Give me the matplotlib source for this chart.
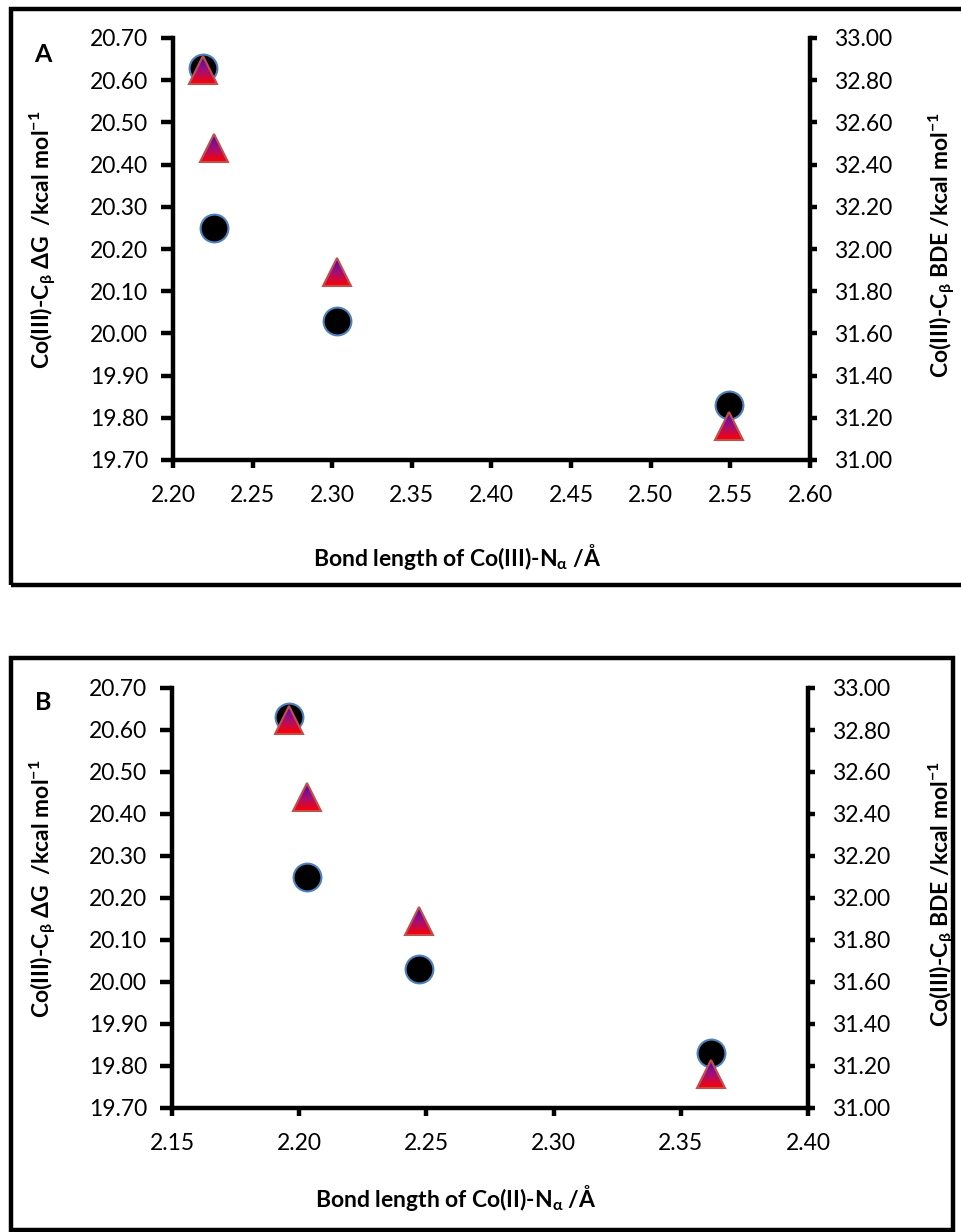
import numpy as np
import matplotlib
matplotlib.use('Agg')
import matplotlib.pyplot as plt
from matplotlib.colors import LinearSegmentedColormap
from matplotlib.transforms import Affine2D, ScaledTranslation
from matplotlib.patches import Polygon, Rectangle
from matplotlib.ticker import FormatStrFormatter

plt.rcParams['font.family'] = ['Lato', 'DejaVu Sans']
plt.rcParams['mathtext.fontset'] = 'custom'
plt.rcParams['mathtext.rm'] = 'Lato'
plt.rcParams['mathtext.bf'] = 'Lato:bold'
plt.rcParams['mathtext.it'] = 'Lato:italic'
plt.rcParams['mathtext.fallback'] = 'stixsans'

# ---------------- data ----------------
bond_co3 = [2.219, 2.226, 2.303, 2.549]   # Co(III)-N_alpha bond length (panel A)
bond_co2 = [2.196, 2.203, 2.247, 2.362]   # Co(II)-N_alpha bond length (panel B)
dG = [20.63, 20.25, 20.03, 19.83]         # Co(III)-C_beta dG (left axis)
bde = [32.85, 32.48, 31.89, 31.16]        # Co(III)-C_beta BDE (right axis)

xticks_A = [2.20, 2.25, 2.30, 2.35, 2.40, 2.45, 2.50, 2.55, 2.60]
xticks_B = [2.15, 2.20, 2.25, 2.30, 2.35, 2.40]
yticks_dG = [19.70, 19.80, 19.90, 20.00, 20.10, 20.20, 20.30, 20.40, 20.50, 20.60, 20.70]
yticks_bde = [31.00, 31.20, 31.40, 31.60, 31.80, 32.00, 32.20, 32.40, 32.60, 32.80, 33.00]

W, H = 961, 1232
fig = plt.figure(figsize=(W / 100, H / 100), dpi=100)

MS = 20
tri_cmap = LinearSegmentedColormap.from_list('tri', ['#ff0000', '#a0107a', '#4a0aa8'])
TICK_FS = 16.5
LAB_FS = 16.5


def fx(px):
    return px / W


def fy(py):
    return 1 - py / H


def panel(top, bottom, left, right, xs, xticks, xlabel, letter,
          xlab_y, ylab_y, rlab_y, letter_y):
    ax = fig.add_axes([fx(left), fy(bottom), fx(right - left), (bottom - top) / H])
    ax2 = ax.twinx()

    ax.plot(xs, dG, 'o', ms=MS, mfc='black', mec='#4f81bd', mew=1.5, zorder=3,
            clip_on=False)

    grad = np.linspace(0, 1, 64).reshape(-1, 1)
    for x, y in zip(xs, bde):
        T = (Affine2D().scale(MS / 2 / 72) + fig.dpi_scale_trans
             + ScaledTranslation(x, y, ax2.transData))
        im = ax2.imshow(grad, cmap=tri_cmap, extent=(-1, 1, -1, 1), origin='lower',
                        transform=T, aspect='auto', interpolation='bilinear',
                        zorder=3)
        poly = Polygon([(0, 1), (-1, -1), (1, -1)], closed=True, transform=T)
        im.set_clip_path(poly)
    ax2.plot(xs, bde, '^', ms=MS, mfc='none', mec='#c0504d', mew=1.5, zorder=4,
             clip_on=False)

    ax.set_xlim(xticks[0], xticks[-1])
    ax.set_ylim(yticks_dG[0], yticks_dG[-1])
    ax2.set_ylim(yticks_bde[0], yticks_bde[-1])
    ax.set_xticks(xticks)
    ax.set_yticks(yticks_dG)
    ax2.set_yticks(yticks_bde)
    ax.xaxis.set_major_formatter(FormatStrFormatter('%.2f'))
    ax.yaxis.set_major_formatter(FormatStrFormatter('%.2f'))
    ax2.yaxis.set_major_formatter(FormatStrFormatter('%.2f'))

    for a in (ax, ax2):
        a.patch.set_visible(False)
        a.spines['top'].set_visible(False)
    ax.spines['right'].set_visible(False)
    ax2.spines['left'].set_visible(False)
    ax2.spines['bottom'].set_visible(False)
    for s in ('left', 'bottom'):
        ax.spines[s].set_linewidth(3.2)
    ax2.spines['right'].set_linewidth(3.2)

    ax.tick_params(axis='y', direction='out', length=9, width=3.2, labelsize=TICK_FS, pad=9)
    ax.tick_params(axis='x', direction='out', length=6, width=3.2, labelsize=TICK_FS, pad=12)
    ax2.tick_params(axis='y', direction='out', length=5, width=3.2, labelsize=TICK_FS, pad=12)

    fig.text(fx((left + right) / 2 - 34), fy(xlab_y), xlabel, ha='center', va='center',
             fontsize=LAB_FS, fontweight='bold')
    fig.text(fx(43), fy(ylab_y), r'Co(III)-C$_{\mathbf{\beta}}$ $\mathbf{\Delta}$G  /kcal mol$^{\mathbf{-1}}$',
             rotation=90, ha='center', va='center', fontsize=LAB_FS, fontweight='bold')
    fig.text(fx(942), fy(rlab_y), r'Co(III)-C$_{\mathbf{\beta}}$ BDE /kcal mol$^{\mathbf{-1}}$',
             rotation=90, ha='center', va='center', fontsize=LAB_FS, fontweight='bold')
    fig.text(fx(43), fy(letter_y), letter, ha='center', va='center', fontsize=18,
             fontweight='bold')
    return ax, ax2


panel(38, 460, 173, 810, bond_co3, xticks_A,
      r'Bond length of Co(III)-N$_{\mathbf{\alpha}}$ /Å', 'A',
      557, 240, 245, 54)
panel(688, 1108, 172, 808, bond_co2, xticks_B,
      r'Bond length of Co(II)-N$_{\mathbf{\alpha}}$ /Å', 'B',
      1198, 889, 894, 703)

# panel frames
fig.patches.append(Rectangle((fx(11), fy(585)), fx(980 - 11), (585 - 9) / H,
                             transform=fig.transFigure, fill=False, lw=3.2,
                             edgecolor='black'))
fig.patches.append(Rectangle((fx(11), fy(1230)), fx(953 - 11), (1230 - 658) / H,
                             transform=fig.transFigure, fill=False, lw=3.2,
                             edgecolor='black'))

fig.savefig('out.png', dpi=100)
